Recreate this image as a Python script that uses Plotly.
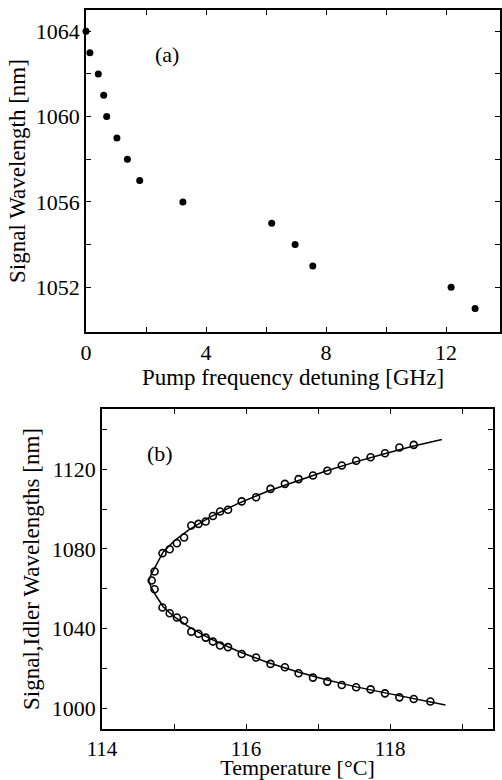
import plotly.graph_objects as go

# ---- Panel (a): signal wavelength vs pump detuning ----
detuning_ghz = [0.0, 0.13, 0.41, 0.59, 0.69, 1.03, 1.38, 1.79, 3.23, 6.19, 6.97, 7.56, 12.17, 12.97]
signal_nm = [1064, 1063, 1062, 1061, 1060, 1059, 1058, 1057, 1056, 1055, 1054, 1053, 1052, 1051]

# ---- Panel (b): signal/idler wavelengths vs temperature (measured) ----
temp_upper = [114.69, 114.73, 114.84, 114.94, 115.04, 115.14, 115.24, 115.34, 115.44, 115.54,
              115.64, 115.75, 115.94, 116.14, 116.34, 116.54, 116.73, 116.93, 117.13, 117.33,
              117.53, 117.73, 117.93, 118.13, 118.33]
wl_upper = [1064.2, 1068.7, 1077.9, 1079.9, 1082.9, 1085.8, 1091.8, 1092.6, 1093.8, 1096.6,
            1098.8, 1099.7, 1103.9, 1106.0, 1110.2, 1112.7, 1115.1, 1116.9, 1119.3, 1121.9,
            1124.3, 1126.1, 1128.1, 1131.0, 1132.3]
temp_lower = [114.73, 114.84, 114.94, 115.04, 115.14, 115.24, 115.34, 115.44, 115.54, 115.64,
              115.75, 115.94, 116.14, 116.34, 116.54, 116.73, 116.93, 117.13, 117.33, 117.53,
              117.73, 117.93, 118.13, 118.33, 118.56]
wl_lower = [1059.8, 1050.6, 1047.7, 1045.6, 1044.1, 1038.5, 1037.4, 1035.5, 1033.5, 1031.5,
            1030.7, 1027.3, 1025.5, 1022.3, 1020.6, 1017.6, 1015.4, 1013.4, 1011.7, 1010.6,
            1009.5, 1007.5, 1005.5, 1004.7, 1003.4]

# ---- Panel (b): fitted tuning curve ----
fit_temp = [118.72, 118.3, 117.9, 117.5, 117.1, 116.7, 116.3, 115.9, 115.5, 115.2, 115.0,
            114.85, 114.75, 114.68, 114.65, 114.68, 114.75, 114.85, 115.0, 115.2, 115.5,
            115.9, 116.3, 116.7, 117.1, 117.5, 117.9, 118.3, 118.77]
fit_wl = [1135.0, 1131.5, 1127.6, 1123.5, 1119.0, 1114.2, 1109.0, 1103.0, 1096.0, 1089.5, 1084.0,
          1078.5, 1072.0, 1067.0, 1064.0, 1061.0, 1056.5, 1051.0, 1046.0, 1041.0, 1035.0,
          1028.5, 1023.0, 1018.5, 1014.5, 1011.0, 1008.0, 1005.0, 1001.7]

# tick labels
a_xticks = [0, 2, 4, 6, 8, 10, 12]
a_xlabels = ["0", "", "4", "", "8", "", "12"]
a_yticks = [1052, 1054, 1056, 1058, 1060, 1062, 1064]
a_ylabels = ["1052", "", "1056", "", "1060", "", "1064"]
b_xticks = [114, 115, 116, 117, 118, 119]
b_xlabels = ["114", "", "116", "", "118", ""]
b_yticks = [1000, 1020, 1040, 1060, 1080, 1100, 1120, 1140]
b_ylabels = ["1000", "", "1040", "", "1080", "", "1120", ""]

FONT = "Liberation Serif, Times New Roman, serif"
W, H = 502, 780

fig = go.Figure()
fig.add_trace(go.Scatter(x=detuning_ghz, y=signal_nm, mode="markers",
                         marker=dict(color="black", size=7), cliponaxis=False,
                         xaxis="x", yaxis="y", showlegend=False))
fig.add_trace(go.Scatter(x=fit_temp, y=fit_wl, mode="lines",
                         line=dict(color="black", width=1.5),
                         xaxis="x2", yaxis="y2", showlegend=False))
for tx, wy in ((temp_upper, wl_upper), (temp_lower, wl_lower)):
    fig.add_trace(go.Scatter(x=tx, y=wy, mode="markers",
                             marker=dict(symbol="circle-open", color="black", size=7,
                                         line=dict(width=1.6)),
                             xaxis="x2", yaxis="y2", showlegend=False))

axis_common = dict(showline=True, linecolor="black", linewidth=1.5, mirror="ticks",
                   ticks="inside", ticklen=5, tickwidth=1, tickcolor="black",
                   showgrid=False, zeroline=False, automargin=False,
                   tickfont=dict(family=FONT, size=22, color="black"))

fig.update_layout(
    width=W, height=H,
    margin=dict(l=0, r=0, t=0, b=0),
    paper_bgcolor="white", plot_bgcolor="white",
    font=dict(family=FONT, color="black"),
    xaxis=dict(domain=[86 / W, 500 / W], range=[0, 13.8], anchor="y",
               tickmode="array", tickvals=a_xticks, ticktext=a_xlabels,
               title=dict(text="Pump frequency detuning [GHz]", font=dict(size=23), standoff=0),
               **axis_common),
    yaxis=dict(domain=[1 - 332 / H, 1 - 10 / H], range=[1049.9, 1065.0], anchor="x",
               tickmode="array", tickvals=a_yticks, ticktext=a_ylabels,
               title=dict(text="Signal Wavelength [nm]", font=dict(size=23), standoff=4),
               **axis_common),
    xaxis2=dict(domain=[102 / W, 493 / W], range=[114, 119.43], anchor="y2",
                tickmode="array", tickvals=b_xticks, ticktext=b_xlabels,
                title=dict(text="Temperature [°C]", font=dict(size=22), standoff=3),
                **{**axis_common, "tickfont": dict(family=FONT, size=21, color="black")}),
    yaxis2=dict(domain=[1 - 729 / H, 1 - 409 / H], range=[989.6, 1150.3], anchor="x2",
                tickmode="array", tickvals=b_yticks, ticktext=b_ylabels,
                title=dict(text="Signal,Idler Wavelengths [nm]", font=dict(size=23), standoff=6),
                **axis_common),
    annotations=[
        dict(text="(a)", xref="paper", yref="paper", x=167 / W, y=1 - 55 / H,
             xanchor="center", yanchor="middle",
             showarrow=False, font=dict(family=FONT, size=22, color="black")),
        dict(text="(b)", xref="paper", yref="paper", x=160 / W, y=1 - 453 / H,
             xanchor="center", yanchor="middle",
             showarrow=False, font=dict(family=FONT, size=22, color="black")),
    ],
)

fig.write_html("out.html", config={"displayModeBar": False},
               post_script="document.body.style.margin='0';document.body.style.overflow='hidden';")
